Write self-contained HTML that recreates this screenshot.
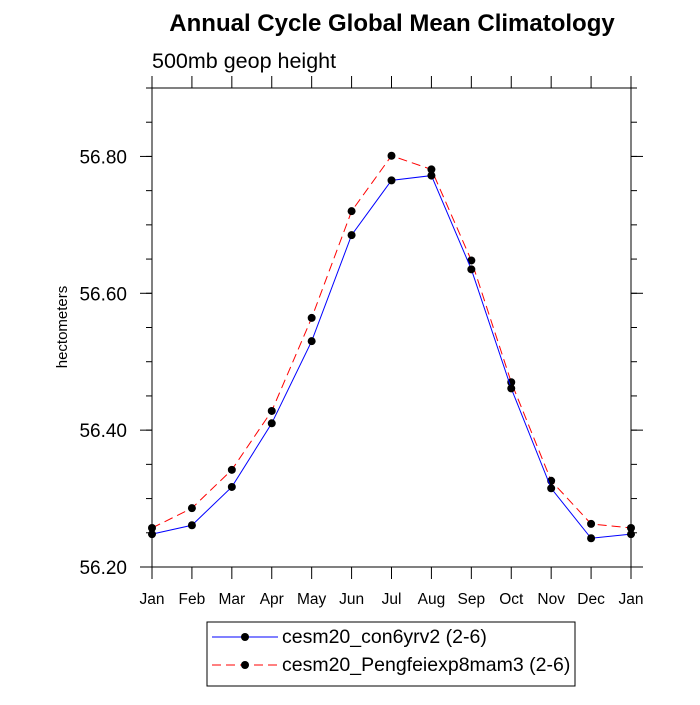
<!DOCTYPE html>
<html><head><meta charset="utf-8"><style>
body{margin:0;background:#fff}
text{font-family:"Liberation Sans",sans-serif}
</style></head><body>
<svg id="c" width="700" height="700" xmlns="http://www.w3.org/2000/svg">
<text x="392" y="31" font-size="24" font-weight="bold" text-anchor="middle">Annual Cycle Global Mean Climatology</text>
<text x="152" y="68" font-size="21.5">500mb geop height</text>
<text transform="translate(67,327) rotate(-90)" font-size="15" text-anchor="middle">hectometers</text>
<rect x="152" y="88" width="479" height="479" fill="none" stroke="#000" stroke-width="1"/>
<g id="axes"></g>
<g id="series"></g>
<rect x="207" y="622" width="368" height="64" fill="#fff" stroke="#000"/>
<g>
<line x1="212" y1="637" x2="278" y2="637" stroke="#00f"/>
<circle cx="245" cy="637" r="4" fill="#000"/>
<text x="282" y="643" font-size="19.5">cesm20_con6yrv2 (2-6)</text></g>
<g>
<line x1="212" y1="665" x2="278" y2="665" stroke="#f00" stroke-dasharray="9,5"/>
<circle cx="245" cy="665" r="4" fill="#000"/>
<text x="282" y="671" font-size="19.5">cesm20_Pengfeiexp8mam3 (2-6)</text></g>
</svg>
<script>
const months=["Jan","Feb","Mar","Apr","May","Jun","Jul","Aug","Sep","Oct","Nov","Dec","Jan"];
const blueValues=[56.248,56.261,56.317,56.410,56.530,56.685,56.765,56.772,56.635,56.461,56.315,56.242,56.248];
const redValues=[56.257,56.286,56.342,56.428,56.564,56.720,56.801,56.781,56.648,56.470,56.326,56.263,56.257];
const yTicks=[56.2,56.4,56.6,56.8];
const NS="http://www.w3.org/2000/svg";
const x0=152,x1=631,y0=567,y1=88,ymin=56.2,ymax=56.9;
function xs(i){return x0+(x1-x0)*i/(months.length-1);}
function ys(v){return y0-(v-ymin)/(ymax-ymin)*(y0-y1);}
function mk(t,a,p){const e=document.createElementNS(NS,t);for(const k in a)e.setAttribute(k,a[k]);p.appendChild(e);return e;}
const ax=document.getElementById('axes');
months.forEach((m,i)=>{
 const x=xs(i);
 const t1=mk('line',{x1:x,y1:y0,x2:x,y2:y0+12,stroke:'#000'},ax);
 
 
 mk('line',{x1:x,y1:y1,x2:x,y2:y1-12,stroke:'#000'},ax);
 const t=mk('text',{x:x,y:604,'font-size':15.5,'text-anchor':'middle'},ax);
 t.textContent=m;
 
 
});
for(let v=56.2;v<=56.9001;v+=0.05){
 const y=ys(v);
 mk('line',{x1:x0,y1:y,x2:x0-6,y2:y,stroke:'#000'},ax);
 mk('line',{x1:x1,y1:y,x2:x1+6,y2:y,stroke:'#000'},ax);
}
yTicks.forEach(v=>{
 const y=ys(v);
 mk('line',{x1:x0,y1:y,x2:x0-12,y2:y,stroke:'#000'},ax);
 mk('line',{x1:x1,y1:y,x2:x1+12,y2:y,stroke:'#000'},ax);
 const t=mk('text',{x:127,y:y+7,'font-size':19,'text-anchor':'end'},ax);
 t.textContent=v.toFixed(2);
 
 
});
const sg=document.getElementById('series');
function draw(vals,color,dash,name){
 const pl=mk('polyline',{points:vals.map((v,i)=>xs(i)+','+ys(v)).join(' '),fill:'none',stroke:color,'stroke-width':1,'stroke-dasharray':dash},sg);
 
 
 vals.forEach((v,i)=>{
  const c=mk('circle',{cx:xs(i),cy:ys(v),r:4,fill:'#000'},sg);
  
  
 });
}
draw(redValues,'#f00','9,5','red-series');
draw(blueValues,'#00f','none','blue-series');
</script>
</body></html>
